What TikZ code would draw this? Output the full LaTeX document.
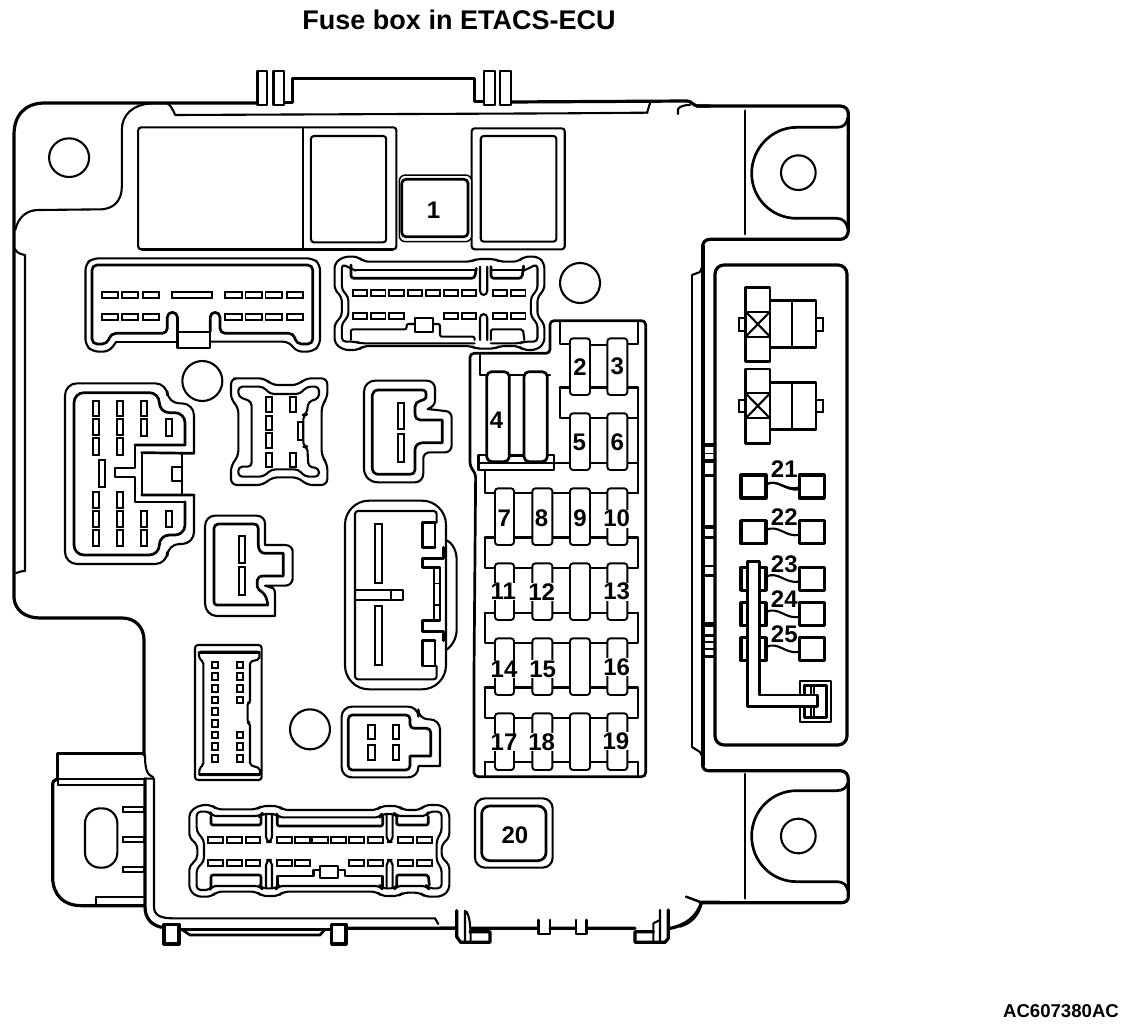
\documentclass[tikz,border=0pt]{standalone}
\usepackage{fontspec}
\setmainfont{Liberation Sans}
\tikzset{
 lin/.style={line width=1.5pt,line join=round,line cap=round},
 med/.style={line width=2.1pt,line join=round,line cap=round},
 hvy/.style={line width=3.2pt,line join=round,line cap=round},
 bld/.style={line width=2.7pt,line join=round,line cap=round},
 pin/.style={line width=1.9pt,fill=white},
 pinb/.style={line width=2.3pt,fill=white},
 fus/.style={line width=1.9pt,fill=white,rounded corners=3pt},
 num/.style={font=\fontsize{24}{24}\selectfont\bfseries,inner sep=0.5pt,fill=white},
 numb/.style={font=\fontsize{24}{24}\selectfont\bfseries,inner sep=0},
 za/.style={shift={(0,60)},x=0.36364pt,y=-0.33333pt},
 zb/.style={shift={(50,370)},x=0.33333pt,y=-0.33333pt},
 zc/.style={shift={(460,310)},x=0.33333pt,y=-0.33333pt},
 zd/.style={shift={(680,90)},x=0.33333pt,y=-0.33333pt},
 ze/.style={shift={(680,450)},x=0.33333pt,y=-0.33333pt},
 zf/.style={shift={(40,640)},x=0.33333pt,y=-0.33333pt},
 zg/.style={shift={(440,780)},x=0.33333pt,y=-0.33333pt},
 zh/.style={shift={(360,375)},x=0.33333pt,y=-0.33333pt},
 zi/.style={shift={(200,510)},x=0.33333pt,y=-0.33333pt},
}
\begin{document}
\begin{tikzpicture}[x=1pt,y=-1pt]
\useasboundingbox (0,0) rectangle (1136,1026);
\node[font=\fontsize{27}{27}\selectfont\bfseries,inner sep=0] (title) at (459,20) {Fuse box in ETACS-ECU};
\node[font=\fontsize{18.6}{19}\selectfont\bfseries,inner sep=0] (code) at (1061,1011) {AC607380AC};
% ---------- body outline
\draw[hvy] (258,103) -- (45,103) .. controls (25,103) and (14,115) .. (14,135) -- (14,598)
  .. controls (15,610) and (25,618) .. (40,618) -- (122,618) .. controls (135,618) and (144,627) .. (144,640) -- (144,755);
\draw[med] (16,573) .. controls (18,573) and (20,571) .. (25,571) -- (25,255) .. controls (20,254) and (17,253) .. (15,249);
\draw[hvy] (510,102) -- (687,101) .. controls (691,101) and (693,105) .. (697,106) -- (710,106);
\draw[med] (647,113) -- (650,103);
\draw[med] (678,114) -- (678,109) .. controls (680,106) and (685,105) .. (690,105);
\begin{scope}[za]
 \draw[med] (42,510) .. controls (50,470) and (75,450) .. (105,450) -- (280,448) .. controls (315,445) and (335,420) .. (335,380)
   -- (335,210) .. controls (335,165) and (365,132) .. (420,130) -- (460,130) .. controls (470,135) and (475,150) .. (482,165) -- (1550,160) -- (1780,158);
 % top tabs and cover
 \draw[hvy] (780,128) -- (805,128) -- (805,55) -- (1305,55) -- (1305,125) -- (1332,125);
 \foreach \a/\b in {708/735,752/780,1332/1362,1375/1405}
  \draw[med,fill=white] (\a,32) rectangle (\b,135);
 % holes
 \draw[med] (190,293) ellipse [x radius=55,y radius=58];
 \draw[med] (1595,669) ellipse [x radius=55,y radius=60];
 % relay recesses
 \draw[med,rounded corners=3pt] (380,202) rectangle (1090,568);
 \draw[bld] (390,568) -- (1080,568);
 \draw[lin] (833,202) -- (833,568);
 \draw[med,rounded corners=3pt] (855,228) rectangle (1062,547);
 \draw[med,rounded corners=3pt] (1297,205) rectangle (1553,568);
 \draw[med,rounded corners=3pt] (1322,228) rectangle (1530,545);
 \draw[lin,fill=white,rounded corners=6pt] (1098,345) rectangle (1297,545);
 \draw[bld,rounded corners=4pt] (1105,358) rectangle (1287,530);
 \node[num] (n1) at (1192,452) {1};
 % connector J (top left)
 \draw[med,rounded corners=6pt] (320,845) -- (300,875) -- (255,875) -- (235,855) -- (235,612) -- (255,595) -- (860,595) -- (880,612) -- (880,855) -- (860,875) -- (815,875) -- (795,845) -- (578,845);
 \draw[med] (320,845) -- (488,845);
 \draw[bld,rounded corners=5pt] (488,815) -- (488,757) -- (460,757) -- (460,820) -- (305,820) -- (295,852) -- (253,852) -- (253,615) -- (860,615) -- (860,852) -- (815,852) -- (808,820) -- (605,820) -- (605,757) -- (578,757) -- (578,815);
 \draw[med] (488,815) rectangle (578,865);
 \foreach \a/\b in {280/325,335/380,393/437,472/582,618/665,675/720,730/775,788/833}
  \draw[pin] (\a,695) rectangle (\b,713);
 \foreach \a/\b in {280/325,335/380,393/437,618/665,675/720,730/775,788/833}
  \draw[pin] (\a,763) rectangle (\b,780);
 % connector I (top centre)
 \draw[med,rounded corners=5pt] (945,590) -- (985,590) -- (1000,605) -- (1295,605) -- (1310,597) -- (1360,597) -- (1375,605) -- (1425,605) -- (1440,590) -- (1480,590) -- (1497,610) -- (1497,690) -- (1478,710) -- (1478,770) -- (1497,790) -- (1497,850) -- (1475,870) -- (1440,870) -- (1425,858) -- (1375,858) -- (1360,866) -- (1310,866) -- (1295,858) -- (1000,858) -- (985,870) -- (945,870) -- (920,850) -- (920,790) -- (940,770) -- (940,710) -- (920,690) -- (920,610) -- cycle;
 \draw[med,rounded corners=4pt] (978,632) -- (940,612) -- (940,690) -- (958,710) -- (958,770) -- (940,790) -- (940,845) -- (978,845) -- (990,850) -- (1305,850);
 \draw[med,rounded corners=4pt] (1440,632) -- (1478,612) -- (1478,690) -- (1460,710) -- (1460,770) -- (1478,790) -- (1478,845) -- (1440,845) -- (1430,850) -- (1350,850);
 \draw[bld,rounded corners=3pt] (965,615) -- (965,655) -- (1305,655) -- (1310,625);
 \draw[lin] (978,630) -- (1305,630);
 \draw[bld,rounded corners=3pt] (1350,620) -- (1350,655) -- (1435,655) -- (1440,618);
 \draw[lin] (1350,630) -- (1438,630);
 \draw[med,rounded corners=4pt] (1320,620) -- (1320,705) -- (1340,705) -- (1340,620);
 \draw[med,rounded corners=4pt] (1320,840) -- (1320,762) -- (1340,762) -- (1340,840);
 \draw[med,rounded corners=2pt] (965,840) -- (965,808) -- (1118,808) -- (1118,792) -- (1210,792) -- (1210,830) -- (1305,830) -- (1305,840);
 \draw[med,rounded corners=2pt] (1350,840) -- (1350,808) -- (1438,808) -- (1442,840);
 \draw[med,fill=white] (1140,775) rectangle (1190,815);
 \foreach \a/\b in {970/1010,1020/1060,1070/1110,1122/1160,1172/1210,1222/1260,1270/1310,1355/1395,1405/1445}
  \draw[pin] (\a,690) rectangle (\b,708);
 \foreach \a/\b in {970/1010,1020/1060,1070/1110,1222/1260,1270/1310,1355/1395,1405/1445}
  \draw[pin] (\a,758) rectangle (\b,776);
\end{scope}
% ---------- connector C
\begin{scope}[zh]
 \draw[med] (45,17) -- (200,17) .. controls (215,17) and (225,28) .. (225,40) -- (225,78) .. controls (225,88) and (215,98) .. (203,102) -- (255,108)
  .. controls (268,108) and (275,118) .. (275,128) -- (275,210) .. controls (275,222) and (268,232) .. (255,232) -- (210,232) .. controls (198,232) and (190,240) .. (190,250)
  -- (190,295) .. controls (190,312) and (178,322) .. (165,322) -- (55,322) .. controls (30,322) and (12,305) .. (12,280) -- (12,50) .. controls (12,30) and (28,17) .. (45,17) -- cycle;
 \draw[bld] (55,45) -- (185,45) .. controls (196,45) and (200,50) .. (198,68) .. controls (195,78) and (165,75) .. (165,95) -- (165,115) .. controls (165,128) and (172,135) .. (180,135) -- (247,135) -- (247,203) -- (190,203)
  .. controls (175,203) and (165,212) .. (165,225) -- (165,285) .. controls (165,293) and (158,298) .. (150,298) -- (55,298) .. controls (45,298) and (37,290) .. (37,280) -- (37,60) .. controls (37,52) and (45,45) .. (55,45) -- cycle;
 \draw[pinb] (113,85) rectangle (133,163);
 \draw[pinb] (113,178) rectangle (133,260);
\end{scope}
% ---------- connector D
\begin{scope}[zi]
 \draw[med] (45,17) -- (170,17) .. controls (185,17) and (195,28) .. (195,40) -- (195,105) -- (255,105) .. controls (268,105) and (278,113) .. (278,125) -- (278,205) .. controls (278,218) and (268,227) .. (255,227)
  -- (195,227) -- (220,235) .. controls (224,238) and (225,245) .. (225,255) -- (225,318) -- (50,318) .. controls (30,318) and (15,300) .. (15,280) -- (15,50) .. controls (15,30) and (28,17) .. (45,17) -- cycle;
 \draw[bld] (55,42) -- (160,42) .. controls (170,42) and (175,48) .. (175,55) -- (175,105) .. controls (175,120) and (183,130) .. (195,130) -- (250,130) -- (250,198) -- (190,198)
  .. controls (180,198) and (172,203) .. (172,210) -- (172,230) .. controls (172,245) and (200,240) .. (203,285) -- (50,285) .. controls (45,285) and (42,280) .. (42,275) -- (42,55) .. controls (42,48) and (48,42) .. (55,42) -- cycle;
 \draw[pinb] (116,78) rectangle (136,158);
 \draw[pinb] (116,172) rectangle (136,255);
\end{scope}
% ---------- connectors of the middle
\begin{scope}[zb]
 \draw[med] (457,33) circle (60);
 % A
 \draw[med,rounded corners=12pt] (432,250) -- (432,100) -- (352,100) -- (352,40) -- (45,40) -- (45,582) -- (352,582) -- (352,522) -- (432,522) -- (432,375);
 \draw[bld,rounded corners=10pt] (405,225) -- (405,128) -- (328,128) -- (328,68) -- (72,68) -- (72,555) -- (328,555) -- (328,495) -- (405,495) -- (405,395);
 \draw[med] (405,225) -- (255,225) -- (255,295) -- (195,295) -- (195,322) -- (255,322) -- (255,395) -- (405,395);
 \draw[bld] (255,225) -- (405,225) (275,248) -- (432,250) (275,375) -- (432,375);
 \draw[med] (275,248) -- (275,375) (397,248) -- (397,375);
 \draw[med] (397,290) -- (367,290) -- (367,332) -- (397,332);
 \foreach \x in {128,200}{
  \foreach \y/\z in {92/137,148/195,205/255,365/413,423/470,480/527}
   \draw[pinb] (\x,\y) rectangle (\x+20,\z);}
 \foreach \y/\z in {92/137,148/197,423/470,480/527}
   \draw[pinb] (272,\y) rectangle (292,\z);
 \foreach \y/\z in {148/197,423/470}
   \draw[pinb] (347,\y) rectangle (367,\z);
 \draw[pin] (146,270) rectangle (165,352);
 % B
 \draw[med,rounded corners=6pt] (570,25) -- (645,25) -- (665,45) -- (745,45) -- (765,25) -- (832,25) -- (832,85) -- (815,105) -- (815,260) -- (832,280) -- (832,345) -- (770,345) -- (745,322) -- (665,322) -- (640,345) -- (543,345) -- (543,285) -- (565,260) -- (565,110) -- (543,90) -- (543,25) -- cycle;
 \draw[med,rounded corners=4pt] (565,50) -- (640,50) -- (660,72) -- (750,72) -- (770,50) -- (807,50) -- (807,85) -- (775,95) -- (770,133) -- (760,135) -- (760,230) -- (772,230) -- (775,290) -- (807,295) -- (807,320) -- (765,320) -- (745,298) -- (665,298) -- (640,320) -- (565,320) -- (565,290) -- (605,290) -- (605,95) -- (565,80) -- cycle;
 \foreach \y/\z in {82/125,137/180,190/235,248/292}
  \draw[pin] (648,\y) rectangle (665,\z);
 \foreach \y/\z in {82/125,248/292}
  \draw[pin] (720,\y) rectangle (738,\z);
 \draw[pin] (745,155) rectangle (760,210);
 % E
 \draw[med] (1188,510) .. controls (1210,520) and (1220,545) .. (1220,570) -- (1220,780) .. controls (1220,805) and (1205,830) .. (1188,840);
 \draw[med,fill=white,rounded corners=24pt] (885,392) rectangle (1188,958);
 \draw[med,rounded corners=3pt] (1160,458) -- (1160,423) -- (915,423) -- (915,928) -- (1160,928) -- (1160,888);
 \draw[med] (915,660) -- (1060,660) -- (1060,690) -- (915,690) (1022,660) -- (1022,690);
 \draw[pin] (975,463) rectangle (997,640);
 \draw[pin] (975,707) rectangle (997,885);
 \draw[bld] (1155,458) -- (1118,458) -- (1118,532) -- (1155,532) (1155,888) -- (1118,888) -- (1118,812) -- (1155,812);
 \draw[med] (1155,458) -- (1155,532) (1155,812) -- (1155,888);
 \draw[bld] (1180,532) -- (1180,565) -- (1118,565) -- (1118,592) -- (1170,592) -- (1170,752) -- (1118,752) -- (1118,785) -- (1180,785) -- (1180,812);
 \draw[lin] (1152,592) -- (1152,752) (1152,640) -- (1170,640) (1152,705) -- (1170,705);
\end{scope}
% ---------- fuse block
\begin{scope}[zc]
 \draw[bld,rounded corners=4pt] (270,130) -- (270,32) -- (557,32) -- (557,1400) -- (42,1400) -- (42,1090) -- (47,490) -- (30,470) -- (30,130) -- cycle;
 \draw[med] (300,35) -- (300,102) -- (330,102) (390,105) -- (442,105) (502,102) -- (533,102) -- (533,35);
 \draw[bld] (300,232) -- (533,232);
 \draw[med] (300,232) -- (300,325) -- (330,325) (390,325) -- (442,325) (502,325) -- (533,325) -- (533,232);
 \draw[med] (280,460) -- (533,460) (533,325) -- (533,550) (75,480) -- (75,550) -- (533,550);
 \draw[bld] (75,682) -- (533,682);
 \draw[med] (75,682) -- (75,775) -- (533,775) -- (533,682);
 \draw[med] (75,908) -- (533,908) (75,908) -- (75,1000) -- (533,1000) -- (533,908);
 \draw[bld] (75,1132) -- (533,1132);
 \draw[med] (75,1132) -- (75,1225) -- (533,1225) -- (533,1132);
 \draw[med] (75,1355) -- (533,1355) (75,1355) -- (75,1400) (533,1355) -- (533,1400);
 \foreach \a/\b/\c/\d in {330/85/390/255,442/85/502/255,330/310/390/480,442/310/502/480}
  \draw[fus] (\a,\b) rectangle (\c,\d);
 \foreach \y in {535,760,985,1210}{
  \foreach \a/\c in {105/162,217/277,330/390,442/502}
   \draw[fus] (\a,\y) rectangle (\c,\y+170);}
 % fuse 4
 \draw[med] (60,130) -- (60,195) -- (80,195) (148,195) -- (192,195) (262,195) -- (270,195);
 \draw[bld,fill=white] (55,435) rectangle (282,480);
 \draw[med] (55,460) -- (282,460);
 \draw[bld] (148,438) -- (192,438);
 \draw[bld,fill=white,rounded corners=5pt] (80,185) rectangle (148,455);
 \draw[bld,fill=white,rounded corners=5pt] (192,185) rectangle (262,455);
 \foreach \n/\x/\y in {2/360/170,3/472/170,4/110/332,5/358/398,6/472/398,7/133/626,8/245/626,9/360/626,10/470/626,11/130/845,12/245/845,13/470/845,14/132/1078,15/248/1078,16/470/1072,17/132/1297,18/245/1297,19/468/1293}
  \node[num] (n\n) at (\x,\y) {\n};
\end{scope}
% ---------- right panel
\draw[hvy] (703,246) -- (703,765);
\draw[hvy,rounded corners=9pt] (715,265) rectangle (847,745);
\draw[lin] (692,747) -- (692,275);
\draw[med] (692,275) -- (700,272) -- (703,265) (692,747) -- (700,752) -- (703,758);
\foreach \a/\b in {443.3/446.7,452.7/454,459.3/463.3,474/477.3,525/529,536/539.3,565/567.3,574/576.7,621.7/626.7,634/636.7,640.7/643.3,648.3/650,655/658.3}
 \fill (703,\a) rectangle (715,\b);
\begin{scope}[zd]
 \draw[hvy] (50,48) -- (480,48) .. controls (498,48) and (505,60) .. (505,72) -- (505,420) .. controls (505,438) and (495,448) .. (480,448) -- (90,448) .. controls (75,448) and (68,458) .. (68,470);
 \draw[bld] (195,62) -- (195,432);
 \draw[bld] (503,85) .. controls (500,103) and (490,112) .. (470,112) -- (350,112) .. controls (275,112) and (215,175) .. (215,250) .. controls (215,325) and (275,385) .. (350,385) -- (470,385) .. controls (490,385) and (500,398) .. (503,415);
 \draw[med] (355,248) circle (52);
 % relays
 \foreach \d in {0,245}{
  \begin{scope}[yshift=-\d*0.33333pt]
  \draw[pin] (177,685) rectangle (197,722);
  \draw[pin] (408,685) rectangle (430,722);
  \draw[bld] (270,632) rectangle (408,773);
  \draw[med] (335,632) -- (335,773);
  \draw[bld,fill=white] (197,592) rectangle (270,815);
  \draw[med] (197,665) rectangle (270,740);
  \draw[med] (197,665) -- (270,740) (197,740) -- (270,665);
  \end{scope}}
\end{scope}
\begin{scope}[ze]
 \draw[hvy] (68,925) -- (68,945) .. controls (68,955) and (75,962) .. (85,962) -- (480,962) .. controls (498,962) and (505,975) .. (505,990) -- (505,1340) .. controls (505,1350) and (498,1358) .. (485,1358) -- (60,1358);
 \draw[med] (0,1430) .. controls (35,1420) and (58,1395) .. (65,1358) (18,1340) -- (65,1358);
 \draw[bld] (195,972) -- (195,1345);
 \draw[bld] (503,1000) .. controls (500,1012) and (490,1022) .. (470,1022) -- (350,1022) .. controls (275,1022) and (215,1083) .. (215,1158) .. controls (215,1235) and (275,1295) .. (350,1295) -- (470,1295) .. controls (490,1295) and (500,1305) .. (503,1320);
 \draw[med] (355,1158) circle (52);
 % small fuses
 \foreach \t/\l/\k in {75/21/58,212/22/200,352/23/342,458/24/448,563/25/553}{
  \draw[hvy] (183,\t) rectangle (258,\t+69);
  \draw[hvy] (358,\t) rectangle (433,\t+69);
  \draw[med] (258,\t+28) .. controls (295,\t+10) and (315,\t+50) .. (358,\t+43);
  \node[numb] (n\l) at (313,\k) {\l};
 }
 \draw[med] (258,103) .. controls (295,85) and (315,125) .. (358,112);
 % plug and bar
 \draw[med] (360,693) rectangle (453,815);
 \draw[bld] (373,707) rectangle (440,802);
 \draw[med] (393,707) -- (393,802) (403,707) -- (403,802);
 \draw[bld,fill=white] (202,335) -- (238,335) -- (238,735) -- (412,735) -- (412,770) -- (202,770) -- cycle;
\end{scope}
% ---------- lower left
\begin{scope}[zf]
 \draw[hvy] (52,415) -- (52,340) -- (310,340);
 \draw[med] (315,345) .. controls (315,385) and (320,405) .. (340,412);
 \draw[hvy] (50,418) .. controls (42,420) and (38,425) .. (38,435) -- (38,715) .. controls (40,765) and (70,797) .. (125,797) -- (312,797);
 \draw[med] (55,418) -- (315,418) (55,435) -- (315,435) (55,418) -- (55,435);
 \draw[med] (168,797) -- (168,772) -- (315,772);
 \draw[med] (315,416) -- (342,416) -- (342,800) .. controls (342,825) and (360,835) .. (400,835) -- (1185,835) -- (1195,852);
 \draw[hvy] (315,416) -- (315,800) .. controls (315,835) and (335,860) .. (375,863);
 \draw[med,rounded corners=15pt] (135,505) rectangle (232,683);
 \foreach \y in {500,590,680}
  \draw[pinb] (250,\y) rectangle (312,\y+15);
 % F
 \draw[med,rounded corners=3pt] (465,15) rectangle (665,420);
 \draw[med,rounded corners=2pt] (477,35) -- (658,35) -- (658,58) -- (630,65) -- (630,188) -- (623,188) -- (623,248) -- (630,250) -- (630,375) -- (660,385) -- (660,405) -- (478,405) -- (478,385) -- (490,375) -- (490,65) -- (477,55) -- cycle;
 \draw[bld] (477,37) -- (658,37) (478,403) -- (660,403);
 \foreach \y in {65,100,135,170,205,240,275,310,345}
  \draw[pin] (515,\y) rectangle (533,\y+20);
 \foreach \y in {65,100,135,170,275,310,345}
  \draw[pin] (592,\y) rectangle (610,\y+20);
 % circle and G
 \draw[med] (810,268) circle (60);
 \draw[med,rounded corners=10pt] (940,200) -- (1135,200) -- (1135,238) -- (1200,238) [sharp corners] -- (1200,378) -- (1135,378) [rounded corners=10pt] -- (1135,412) -- (905,412) -- (905,200) -- (940,200);
 \draw[bld,rounded corners=4pt] (935,225) -- (1110,225) -- (1110,265) -- (1172,265) [sharp corners] -- (1172,348) -- (1110,348) [rounded corners=4pt] -- (1110,390) -- (925,390) -- (925,225) -- (935,225);
 \foreach \a/\b in {983/1005,1058/1078}{
  \draw[pinb] (\a,255) rectangle (\b,298);
  \draw[pinb] (\a,315) rectangle (\b,360);}
 % H
 \draw[med,rounded corners=5pt] (480,495) -- (515,495) -- (530,508) -- (650,508) -- (665,498) -- (715,498) -- (730,510) -- (1010,510) -- (1025,498) -- (1075,498) -- (1090,510) -- (1140,510) -- (1155,495) -- (1205,495) -- (1228,515) -- (1228,595) -- (1205,612) -- (1205,655) -- (1228,672) -- (1228,750) -- (1205,770) -- (1155,770) -- (1140,758) -- (1090,758) -- (1075,768) -- (1025,768) -- (1010,755) -- (730,755) -- (715,768) -- (665,768) -- (650,755) -- (530,755) -- (515,770) -- (470,770) -- (448,750) -- (448,675) -- (472,660) -- (472,612) -- (448,595) -- (448,515) -- cycle;
 \draw[med,rounded corners=4pt] (470,515) -- (510,515) -- (515,528) -- (660,528) -- (665,522) -- (710,522) -- (715,532) -- (1020,532) -- (1025,522) -- (1065,522) -- (1070,528) -- (1160,528) -- (1165,515) -- (1205,515) -- (1205,575) -- (1190,600) -- (1190,665) -- (1205,685) -- (1205,745) -- (1165,745) -- (1160,738) -- (1070,738) -- (1065,745) -- (1025,745) -- (1020,738) -- (715,738) -- (710,745) -- (665,745) -- (660,738) -- (515,738) -- (510,750) -- (470,750) -- (470,685) -- (492,665) -- (492,600) -- (470,575) -- cycle;
 \foreach \a/\b/\c in {513/555/663,712/558/1028,1070/555/1165}
  \draw[bld,rounded corners=2pt] (\a,530) -- (\a,\b) -- (\c,\b) -- (\c,530);
 \foreach \a in {678,1040}{
  \draw[med,rounded corners=5pt] (\a,525) -- (\a,606) -- (\a+18,606) -- (\a+18,525);
  \draw[med,rounded corners=5pt] (\a,742) -- (\a,660) -- (\a+18,660) -- (\a+18,742);}
 \draw[bld,rounded corners=2pt] (513,742) -- (513,705) -- (663,705) -- (663,742);
 \draw[bld] (712,742) -- (712,708) -- (820,708) -- (820,690) -- (915,690) -- (915,708) -- (1028,708) -- (1028,742);
 \draw[bld,rounded corners=2pt] (1070,742) -- (1070,705) -- (1165,705) -- (1168,735);
 \draw[med,fill=white] (840,678) rectangle (893,715);
 \foreach \a/\b in {505/550,560/605,617/660,710/755,765/810,817/863,872/918,927/972,983/1028,1073/1118,1130/1175}
  \draw[pin] (\a,590) rectangle (\b,608);
 \foreach \a/\b in {505/550,560/605,617/660,710/755,765/810,927/972,983/1028,1073/1118,1130/1175}
  \draw[pin] (\a,660) rectangle (\b,678);
 % bottom edge
 \draw[hvy] (375,863) -- (417,865) (917,865) -- (1250,865);
 \draw[bld] (417,868) -- (875,868);
 \draw[bld] (425,868) -- (450,885) -- (840,885) -- (855,868);
 \draw[hvy,fill=white] (372,853) rectangle (417,912);
 \draw[hvy,fill=white] (875,853) rectangle (918,912);
\end{scope}
\begin{scope}[zg]
 \draw[hvy] (0,445) -- (50,445) (95,445) -- (290,445) (330,445) -- (405,445) (440,445) -- (585,445) (690,445) .. controls (740,435) and (770,410) .. (785,367) -- (840,367);
 \draw[med] (738,350) -- (785,367);
 \draw[hvy] (50,392) -- (50,470) -- (62,487) -- (150,487) -- (150,455) -- (90,455);
 \draw[med] (75,392) -- (75,487) (80,395) .. controls (88,410) and (92,430) .. (92,487);
 \draw[bld] (295,420) -- (295,462) -- (330,462) -- (330,420);
 \draw[bld] (408,420) -- (408,462) -- (440,462) -- (440,420);
 \draw[hvy] (640,455) -- (585,455) -- (585,487) -- (675,487) -- (685,475) -- (685,390);
 \draw[med] (640,430) -- (660,420) (660,390) -- (660,487) (640,430) -- (640,487);
 \draw[med,fill=white,rounded corners=10pt] (105,55) rectangle (338,263);
 \draw[bld,rounded corners=8pt] (125,78) rectangle (318,242);
 \node[numb] (n20) at (225,165) {20};
\end{scope}
\end{tikzpicture}
\end{document}
